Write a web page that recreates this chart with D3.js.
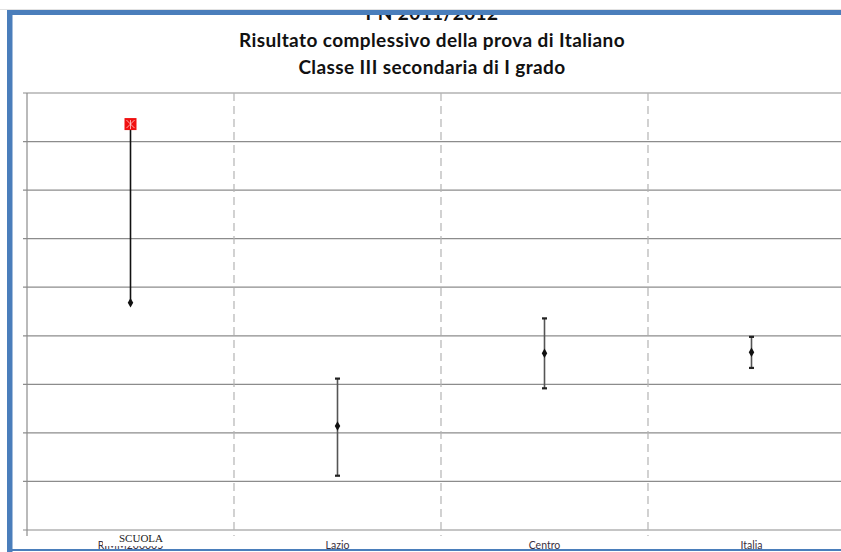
<!DOCTYPE html>
<html>
<head>
<meta charset="utf-8">
<script src="https://cdn.jsdelivr.net/npm/d3@7"></script>
<style>
  body { margin: 0; background: #fff; }
  svg { display: block; }
</style>
</head>
<body>
<div id="chart"></div>
<script>
// Chart data
const categories = ['RIMM200005', 'Lazio', 'Centro', 'Italia'];
const means = [63.4, 50.7, 58.2, 58.3];
const lower = [63.4, 45.6, 54.6, 56.7];
const upper = [81.8, 55.6, 61.8, 59.9];
const yTicks = [40, 45, 50, 55, 60, 65, 70, 75, 80, 85];
const titleLines = ['PN 2011/2012', 'Risultato complessivo della prova di Italiano', 'Classe III secondaria di I grado'];

const width = 841, height = 552;
const blue = '#4a7ebb';

const svg = d3.select('#chart').append('svg')
    .attr('width', width)
    .attr('height', height);

// plot area runs past the right edge, as in the cropped picture
const x = d3.scaleBand()
    .domain(categories)
    .range([27, 855])
    .padding(0);

const y = d3.scaleLinear()
    .domain([40, 85])
    .range([530, 93]);

// gridlines
svg.append('g')
    .selectAll('line')
    .data(yTicks)
    .enter()
    .append('line')
    .attr('x1', 23)
    .attr('x2', width)
    .attr('y1', d => y(d))
    .attr('y2', d => y(d))
    .attr('stroke', '#8c8c8c')
    .attr('stroke-width', 1.2);

// dashed category separators
svg.append('g')
    .selectAll('line')
    .data(categories.slice(1))
    .enter()
    .append('line')
    .attr('x1', d => x(d))
    .attr('x2', d => x(d))
    .attr('y1', y(85))
    .attr('y2', y(40) + 6)
    .attr('stroke', '#b4b4b4')
    .attr('stroke-width', 1.2)
    .attr('stroke-dasharray', '8,5');

// value axis line
svg.append('line')
    .attr('x1', 27).attr('x2', 27)
    .attr('y1', y(85)).attr('y2', y(40) + 6)
    .attr('stroke', '#8c8c8c')
    .attr('stroke-width', 1.2);

// category labels
svg.append('g')
    .selectAll('text')
    .data(categories)
    .enter()
    .append('text')
    .attr('x', d => x(d) + x.bandwidth() / 2)
    .attr('y', 549)
    .attr('text-anchor', 'middle')
    .attr('font-family', 'Lato, "Open Sans", sans-serif')
    .attr('font-size', 10.5)
    .attr('fill', '#3a3040')
    .text(d => d);

// "SCUOLA" box over the school code
svg.append('rect')
    .attr('x', 103).attr('y', 531)
    .attr('width', 77).attr('height', 15)
    .attr('fill', '#fff');
svg.append('text')
    .attr('x', 141).attr('y', 542)
    .attr('text-anchor', 'middle')
    .attr('font-family', '"Liberation Serif", "DejaVu Serif", serif')
    .attr('font-size', 11)
    .attr('fill', '#222')
    .text('SCUOLA');

const pts = categories.map((c, i) => ({ c, i, m: means[i], lo: lower[i], hi: upper[i] }));
const cx = d => x(d.c) + x.bandwidth() / 2;

// error bars
const g = svg.append('g');
g.selectAll('.bar')
    .data(pts)
    .enter()
    .append('line')
    .attr('x1', cx).attr('x2', cx)
    .attr('y1', d => y(d.lo))
    .attr('y2', d => y(d.hi))
    .attr('stroke', d => d.i === 0 ? '#111' : '#555')
    .attr('stroke-width', 1.6);

// caps (not for the school)
pts.slice(1).forEach(d => {
    [d.lo, d.hi].forEach(v => {
        g.append('rect')
            .attr('x', cx(d) - 2.5)
            .attr('y', y(v) - 1)
            .attr('width', 5)
            .attr('height', 2.2)
            .attr('fill', '#222');
    });
});

// mean markers
g.selectAll('.mean')
    .data(pts)
    .enter()
    .append('path')
    .attr('d', d3.symbol().type(d3.symbolDiamond).size(26))
    .attr('transform', d => `translate(${cx(d)},${y(d.m)})`)
    .attr('fill', '#111');

// school marker: red picture box at the top of its line
const s = pts[0];
const mk = svg.append('g')
    .attr('transform', `translate(${cx(s)},${y(s.hi)})`);
mk.append('rect')
    .attr('x', -6).attr('y', -6)
    .attr('width', 12).attr('height', 12)
    .attr('fill', '#f01010');
mk.append('path')
    .attr('d', 'M-4,-4L0,0L4,-4M-4,4L0,0L4,4M0,-4V5')
    .attr('stroke', '#ffd0d0')
    .attr('stroke-width', 0.8)
    .attr('fill', 'none');

// titles
svg.append('g')
    .selectAll('text')
    .data(titleLines)
    .enter()
    .append('text')
    .attr('x', 432)
    .attr('y', (d, i) => 20 + i * 26.8)
    .attr('text-anchor', 'middle')
    .attr('font-family', 'Lato, "Open Sans", sans-serif')
    .attr('font-weight', 'bold')
    .attr('font-size', 19)
    .attr('letter-spacing', 0.4)
    .attr('fill', '#111')
    .text(d => d);

// frame from the screenshot: white above the blue bar, blue borders
svg.append('rect')
    .attr('x', 0).attr('y', 0)
    .attr('width', width).attr('height', 15)
    .attr('fill', '#fff');
svg.append('line')
    .attr('x1', 0).attr('x2', width)
    .attr('y1', 9.5).attr('y2', 9.5)
    .attr('stroke', '#e2e2e2');
svg.append('rect')
    .attr('x', 7).attr('y', 10)
    .attr('width', width - 7).attr('height', 5)
    .attr('fill', blue);
svg.append('rect')
    .attr('x', 7).attr('y', 10)
    .attr('width', 5.5).attr('height', height - 10)
    .attr('fill', blue);
svg.append('rect')
    .attr('x', 7).attr('y', 549)
    .attr('width', width - 7).attr('height', 2)
    .attr('fill', blue);
</script>
</body>
</html>
